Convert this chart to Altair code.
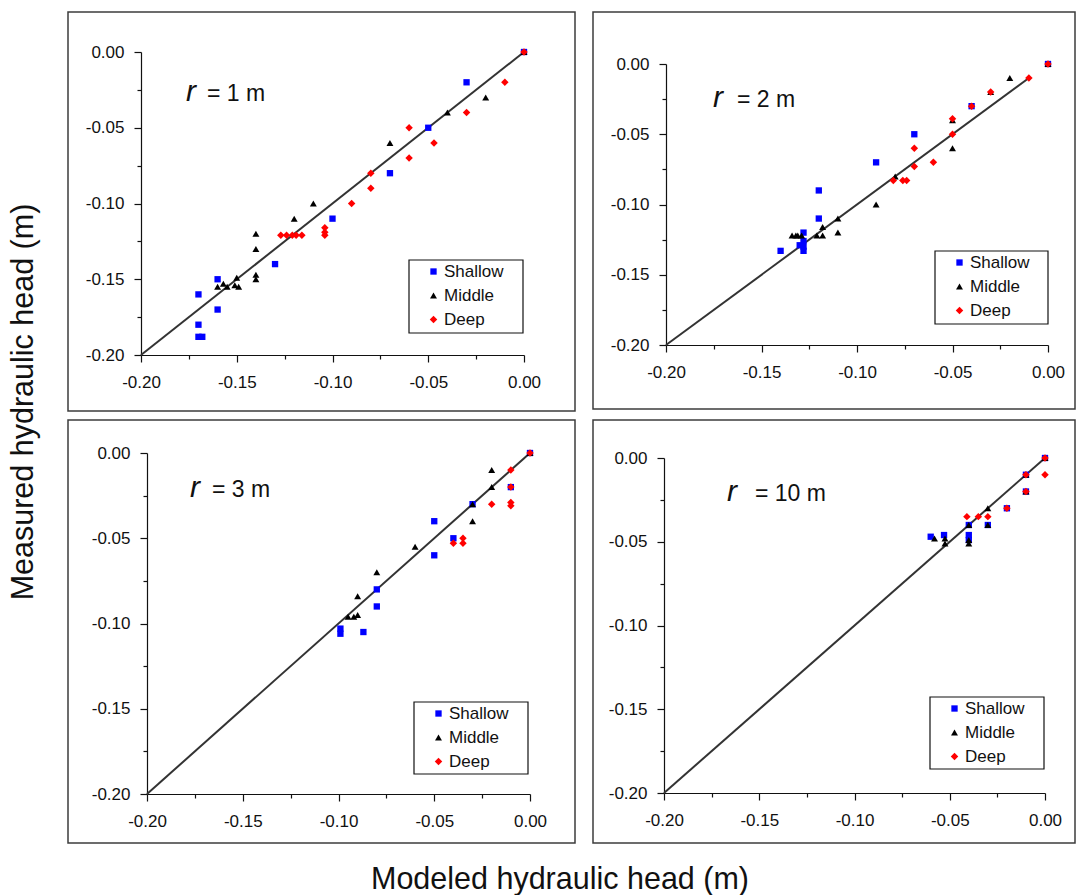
import altair as alt
import pandas as pd

FONT = "Liberation Sans"
INK = "#111111"
FRAME_COLOR = "#3c3c3c"

SERIES = ["Shallow", "Middle", "Deep"]
SERIES_COLORS = ["#0000ff", "#000000", "#ff0000"]
SERIES_SHAPES = ["square", "triangle-up", "diamond"]
SERIES_SIZES = [40, 56, 50]

# ---- r = 1 m ----
R1_SHALLOW_MOD = [0.0, -0.03, -0.05, -0.07, -0.10, -0.13, -0.16, -0.16, -0.17, -0.17, -0.170, -0.168]
R1_SHALLOW_MEAS = [0.0, -0.02, -0.05, -0.08, -0.11, -0.14, -0.15, -0.17, -0.16, -0.18, -0.188, -0.188]
R1_MIDDLE_MOD = [0.0, -0.02, -0.04, -0.07, -0.11, -0.12, -0.14, -0.14, -0.14, -0.14,
                 -0.15, -0.151, -0.149, -0.16, -0.157, -0.155]
R1_MIDDLE_MEAS = [0.0, -0.03, -0.04, -0.06, -0.10, -0.11, -0.12, -0.13, -0.147, -0.15,
                  -0.149, -0.154, -0.155, -0.155, -0.153, -0.155]
R1_DEEP_MOD = [0.0, -0.01, -0.03, -0.06, -0.047, -0.06, -0.08, -0.08, -0.09, -0.104, -0.104,
               -0.104, -0.127, -0.124, -0.121, -0.119, -0.116]
R1_DEEP_MEAS = [0.0, -0.02, -0.04, -0.05, -0.06, -0.07, -0.08, -0.09, -0.10, -0.116, -0.119,
                -0.121, -0.121, -0.121, -0.121, -0.121, -0.121]

# ---- r = 2 m ----
R2_SHALLOW_MOD = [0.0, -0.04, -0.07, -0.09, -0.12, -0.12, -0.128, -0.128, -0.13, -0.128, -0.128, -0.14]
R2_SHALLOW_MEAS = [0.0, -0.03, -0.05, -0.07, -0.09, -0.11, -0.12, -0.126, -0.129, -0.13, -0.133, -0.133]
R2_MIDDLE_MOD = [0.0, -0.02, -0.03, -0.05, -0.05, -0.08, -0.09, -0.11, -0.11, -0.118, -0.121,
                 -0.118, -0.134, -0.132, -0.131, -0.129]
R2_MIDDLE_MEAS = [0.0, -0.01, -0.02, -0.04, -0.06, -0.08, -0.10, -0.11, -0.12, -0.116, -0.122,
                  -0.122, -0.122, -0.122, -0.122, -0.122]
R2_DEEP_MOD = [0.0, -0.01, -0.03, -0.04, -0.05, -0.05, -0.06, -0.07, -0.07, -0.081, -0.076, -0.074]
R2_DEEP_MEAS = [0.0, -0.01, -0.02, -0.03, -0.039, -0.05, -0.07, -0.06, -0.073, -0.083, -0.083, -0.083]

# ---- r = 3 m ----
R3_SHALLOW_MOD = [0.0, -0.01, -0.03, -0.05, -0.05, -0.04, -0.08, -0.08, -0.099, -0.099, -0.087]
R3_SHALLOW_MEAS = [0.0, -0.02, -0.03, -0.04, -0.06, -0.05, -0.08, -0.09, -0.103, -0.106, -0.105]
R3_MIDDLE_MOD = [0.0, -0.02, -0.02, -0.03, -0.03, -0.06, -0.08, -0.09, -0.09, -0.095, -0.092]
R3_MIDDLE_MEAS = [0.0, -0.01, -0.02, -0.03, -0.04, -0.055, -0.07, -0.084, -0.095, -0.096, -0.096]
R3_DEEP_MOD = [0.0, -0.01, -0.01, -0.01, -0.01, -0.02, -0.035, -0.035, -0.04]
R3_DEEP_MEAS = [0.0, -0.01, -0.02, -0.029, -0.031, -0.03, -0.05, -0.053, -0.053]

# ---- r = 10 m ----
R10_SHALLOW_MOD = [0.0, -0.01, -0.01, -0.02, -0.04, -0.03, -0.04, -0.04, -0.053, -0.06]
R10_SHALLOW_MEAS = [0.0, -0.01, -0.02, -0.03, -0.04, -0.04, -0.046, -0.049, -0.046, -0.047]
R10_MIDDLE_MOD = [0.0, -0.01, -0.01, -0.03, -0.03, -0.04, -0.04, -0.04, -0.0525, -0.0525, -0.058]
R10_MIDDLE_MEAS = [0.0, -0.01, -0.02, -0.03, -0.04, -0.04, -0.049, -0.051, -0.048, -0.051, -0.048]
R10_DEEP_MOD = [0.0, 0.0, -0.01, -0.01, -0.02, -0.03, -0.035, -0.041]
R10_DEEP_MEAS = [0.0, -0.01, -0.01, -0.02, -0.03, -0.035, -0.035, -0.035]

# 1:1 reference lines (start, end)
LINE_R1 = [-0.20, 0.0]
LINE_R2 = [-0.20, -0.01]
LINE_R3 = [-0.20, 0.0]
LINE_R10 = [-0.20, 0.0]

PANEL_LABELS = ["= 1 m", "= 2 m", "= 3 m", "= 10 m"]

AXIS_DOMAIN = [-0.20, 0.0]
TICK_VALUES = [-0.2, -0.175, -0.15, -0.125, -0.1, -0.075, -0.05, -0.025, 0.0]
MAJOR_TEST = "abs(round(datum.value * 40)) % 2 == 0"
LABEL_EXPR = (MAJOR_TEST + " ? (datum.value < -0.0001 ? '-' : '') + "
              "format(abs(datum.value), '.2f') : ''")

IND = dict(color="independent", shape="independent", size="independent")


def series_frame(pairs):
    rows = []
    for name, (mod, meas) in zip(SERIES, pairs):
        for a, b in zip(mod, meas):
            rows.append({"mod": a, "meas": b, "Depth": name})
    return pd.DataFrame(rows)


def make_axis(is_x):
    return alt.Axis(
        values=TICK_VALUES, labelExpr=LABEL_EXPR, title=None, grid=False,
        tickSize={"condition": {"test": MAJOR_TEST, "value": 7}, "value": 4},
        labelFlush=False, labelOverlap=False,
        labelPadding=12 if is_x else 10,
        labelFont=FONT, labelFontSize=17, labelColor=INK,
        domainColor=INK, tickColor=INK, domainWidth=1.2, tickWidth=1.2,
    )


def pos_x():
    return alt.X("mod:Q", scale=alt.Scale(domain=AXIS_DOMAIN, nice=False, zero=False),
                 axis=make_axis(True))


def pos_y():
    return alt.Y("meas:Q", scale=alt.Scale(domain=AXIS_DOMAIN, nice=False, zero=False),
                 axis=make_axis(False))


def one_cell():
    return alt.Data(values=[{}])


def anchor():
    # 1x1 invisible cell: makes the next view in a concat start at its frame edge
    return alt.Chart(one_cell()).mark_rect(opacity=0).encode(
        x=alt.value(0), x2=alt.value(1), y=alt.value(0), y2=alt.value(1)
    ).properties(width=1, height=1)


def box(x1, y1, x2, y2, color, width, fill="transparent"):
    return alt.Chart(one_cell()).mark_rect(
        fill=fill, stroke=color, strokeWidth=width
    ).encode(x=alt.value(x1), x2=alt.value(x2), y=alt.value(y1), y2=alt.value(y2))


def panel(pairs, line, label, lay):
    w, h = lay["w"], lay["h"]
    fx1, fy1, fx2, fy2 = lay["frame"]
    lx, ly = lay["legend"]
    bw, bh = lay["legend_box"]

    frame = box(fx1, fy1, w + fx2, h + fy2, FRAME_COLOR, 1.5)
    legend_frame = box(lx, ly, lx + bw, ly + bh, INK, 1.2, fill="white")

    ref = alt.Chart(pd.DataFrame({"mod": line, "meas": line})).mark_line(
        color="#333333", strokeWidth=2
    ).encode(x=pos_x(), y=pos_y())

    legend = alt.Legend(
        title=None, orient="none", legendX=lx, legendY=ly, padding=3, rowPadding=6,
        symbolSize=30, symbolOffset=13, labelOffset=2, symbolStrokeWidth=0,
        labelFont=FONT, labelFontSize=17, labelColor=INK,
    )
    pts = alt.Chart(series_frame(pairs)).mark_point(filled=True, opacity=1).encode(
        x=pos_x(), y=pos_y(),
        color=alt.Color("Depth:N", scale=alt.Scale(domain=SERIES, range=SERIES_COLORS),
                        legend=legend),
        shape=alt.Shape("Depth:N", scale=alt.Scale(domain=SERIES, range=SERIES_SHAPES),
                        legend=legend),
        size=alt.Size("Depth:N", scale=alt.Scale(domain=SERIES, range=SERIES_SIZES),
                      legend=None),
    )

    rx, ry = lay["r"]
    ex, ey = lay["eq"]
    r_text = alt.Chart(one_cell()).mark_text(
        text="r", font=FONT, fontSize=30, fontStyle="italic", color=INK,
        align="left", baseline="alphabetic",
    ).encode(x=alt.value(rx), y=alt.value(ry))
    eq_text = alt.Chart(one_cell()).mark_text(
        text=label, font=FONT, fontSize=23, color=INK,
        align="left", baseline="alphabetic",
    ).encode(x=alt.value(ex), y=alt.value(ey))

    body = alt.layer(frame, ref, legend_frame, pts, r_text, eq_text).properties(
        width=w, height=h)
    # anchor the panel by the top-left corner of its frame
    inner = alt.hconcat(anchor(), body, spacing=0).resolve_legend(**IND)
    return alt.vconcat(anchor(), inner, spacing=0).resolve_legend(**IND)


LAYOUT = [
    {"w": 383, "h": 303, "frame": (-73, -40, 51, 56), "legend": (268, 208), "legend_box": (114, 73),
     "r": (45, 49), "eq": (66, 49)},
    {"w": 382, "h": 281, "frame": (-73, -52, 27, 64), "legend": (269, 187), "legend_box": (113, 73),
     "r": (47, 43), "eq": (71, 43)},
    {"w": 383, "h": 341, "frame": (-79, -33, 45, 49), "legend": (267, 249), "legend_box": (114, 72),
     "r": (43, 44), "eq": (65, 44)},
    {"w": 381, "h": 335, "frame": (-71, -38, 30, 50), "legend": (266, 239), "legend_box": (114, 72),
     "r": (63, 43), "eq": (91, 43)},
]

p1 = panel([(R1_SHALLOW_MOD, R1_SHALLOW_MEAS), (R1_MIDDLE_MOD, R1_MIDDLE_MEAS),
            (R1_DEEP_MOD, R1_DEEP_MEAS)], LINE_R1, PANEL_LABELS[0], LAYOUT[0])
p2 = panel([(R2_SHALLOW_MOD, R2_SHALLOW_MEAS), (R2_MIDDLE_MOD, R2_MIDDLE_MEAS),
            (R2_DEEP_MOD, R2_DEEP_MEAS)], LINE_R2, PANEL_LABELS[1], LAYOUT[1])
p3 = panel([(R3_SHALLOW_MOD, R3_SHALLOW_MEAS), (R3_MIDDLE_MOD, R3_MIDDLE_MEAS),
            (R3_DEEP_MOD, R3_DEEP_MEAS)], LINE_R3, PANEL_LABELS[2], LAYOUT[2])
p4 = panel([(R10_SHALLOW_MOD, R10_SHALLOW_MEAS), (R10_MIDDLE_MOD, R10_MIDDLE_MEAS),
            (R10_DEEP_MOD, R10_DEEP_MEAS)], LINE_R10, PANEL_LABELS[3], LAYOUT[3])

row1 = alt.hconcat(p1, p2, spacing=15).resolve_legend(**IND)
row2 = alt.hconcat(p3, p4, spacing=15).resolve_legend(**IND)
grid = alt.vconcat(row1, row2, spacing=6).resolve_legend(**IND)

y_title = alt.Chart(one_cell()).mark_text(
    text="Measured hydraulic head (m)", font=FONT, fontSize=30.5, color=INK,
    angle=270, align="center", baseline="middle",
).encode(x=alt.value(16), y=alt.value(392)).properties(width=40, height=830)

x_title = alt.Chart(one_cell()).mark_text(
    text="Modeled hydraulic head (m)", font=FONT, fontSize=30.5, color=INK,
    align="center", baseline="alphabetic",
).encode(x=alt.value(552), y=alt.value(42)).properties(width=1000, height=42)

main = alt.hconcat(y_title, grid, spacing=18).resolve_legend(**IND)

chart = (
    alt.vconcat(main, x_title, spacing=3)
    .resolve_legend(**IND)
    .properties(padding={"left": 8, "top": 10, "right": 0, "bottom": 0})
    .configure_view(stroke=None)
)

chart.save("out.html", embed_options={"renderer": "svg", "actions": False})
